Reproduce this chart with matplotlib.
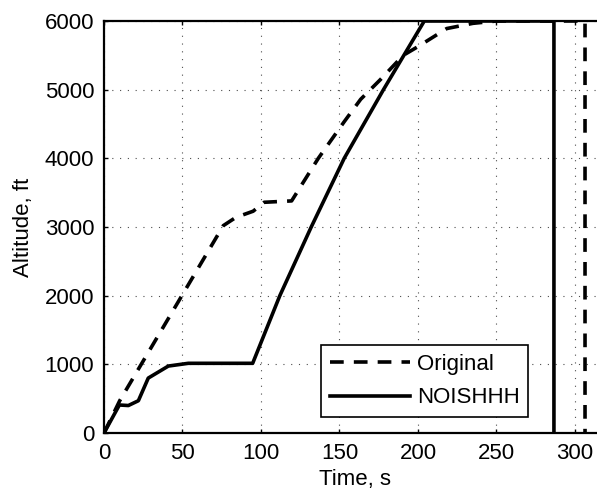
import numpy as np
import matplotlib
matplotlib.use("Agg")
import matplotlib.pyplot as plt

# Profil "Original"
t_orig = [0, 10, 76, 84, 95, 102, 119.5, 136.5, 152.9, 163.5, 176.2, 190.6,
          200.2, 218.3, 235, 250, 306.4, 306.4]
h_orig = [0, 470, 3020, 3140, 3230, 3360, 3380, 4000, 4530, 4860, 5150, 5500,
          5630, 5890, 5966, 6000, 6000, 0]

# Profil "NOISHHH"
t_new = [0, 9.8, 15.5, 21.9, 28.2, 41, 53.7, 94.7, 112, 132, 153, 178,
         204, 286.6, 286.6]
h_new = [0, 408, 400, 470, 800, 975, 1015, 1015, 2000, 3000, 4000, 5000,
         6000, 6000, 0]

x_ticks = np.arange(0, 301, 50)
y_ticks = np.arange(0, 6001, 1000)

plt.rcParams['font.family'] = ['Liberation Sans', 'DejaVu Sans']
plt.rcParams['font.size'] = 16

fig = plt.figure(figsize=(5.97, 4.93), dpi=100)
# os X (0..320 s) wychodzi troche poza prawa krawedz rysunku
ax = fig.add_axes([0.1742, 0.1217, 0.8415, 0.8357])

ax.plot(t_orig, h_orig, color='k', lw=2.6, linestyle=(0, (3.8, 2.8)),
        label='Original')
ax.plot(t_new, h_new, color='k', lw=2.6, label='NOISHHH')

ax.set_xlim(0, 320)
ax.set_ylim(0, 6000)
ax.set_xticks(x_ticks)
ax.set_yticks(y_ticks)
ax.grid(True, color='0.3', linestyle=(0, (1, 6)), lw=0.8)
ax.tick_params(direction='in', length=3, width=1, top=True, right=False, pad=7)
for s in ax.spines.values():
    s.set_linewidth(1.6)
ax.spines['right'].set_visible(False)

ax.set_xlabel('Time, s', labelpad=4)
ax.set_ylabel('Altitude, ft', labelpad=8)

leg = ax.legend(loc='lower right', bbox_to_anchor=(0.885, 0.1536),
                bbox_transform=fig.transFigure, borderaxespad=0,
                fancybox=False, framealpha=1, edgecolor='k',
                handlelength=3.6, handletextpad=0.3, borderpad=0.4,
                labelspacing=0.55)
leg.get_frame().set_linewidth(1.2)

fig.savefig('out.png', dpi=100, facecolor='white')
